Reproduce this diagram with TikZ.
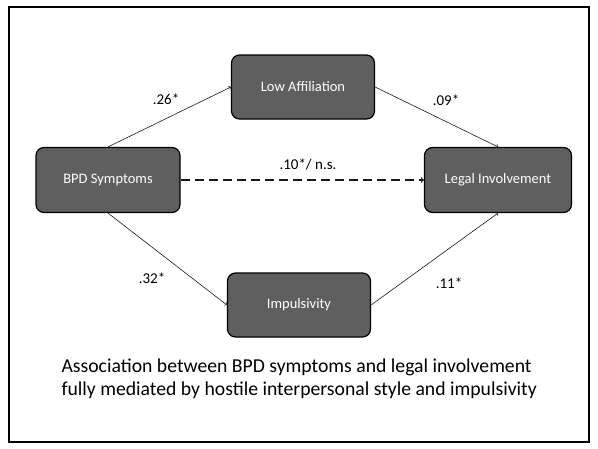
\documentclass[tikz,border=0pt]{standalone}
\usepackage{fontspec}
\setmainfont{Carlito}
\definecolor{med@gray}{RGB}{95,95,95}
\definecolor{med@line}{RGB}{25,25,25}

\tikzset{
  medbox/.style={
    draw=black, line width=1.2pt, fill=med@gray,
    rounded corners=8pt, inner sep=0pt,
    minimum width=143pt, minimum height=64pt,
    text=white, font=\fontsize{14.5}{16}\selectfont,
  },
  medlabel/.style={font=\fontsize{15}{17}\selectfont},
  medarrow/.style={->, line width=0.6pt, med@line},
}

\begin{document}
\begin{tikzpicture}[x=1pt,y=-1pt]
\useasboundingbox (0,0) rectangle (598,448);
\draw[line width=1.8pt] (9,7) rectangle (589,442);

% predictor and outcome
\node[medbox, minimum width=144pt, minimum height=65pt] (bpd) at (108,180) {BPD Symptoms};
\node[medbox, minimum width=147pt, minimum height=65pt] (legal) at (498,180) {Legal Involvement};

% mediators
\node[medbox] (lowaff) at (303,87) {Low Affiliation};
\node[medbox] (impuls) at (299,305) {Impulsivity};

% paths
\draw[medarrow] (bpd.north) -- (lowaff.west);
\draw[medarrow] (lowaff.east) -- (legal.north);
\draw[medarrow] (bpd.south) -- (impuls.west);
\draw[medarrow] (impuls.east) -- (legal.south);
\draw[medarrow, line width=1.1pt, dash pattern=on 9pt off 5pt] (bpd.east) -- (legal.west);

\node[medlabel] (l26) at (166,99) {.26*};
\node[medlabel] (l09) at (446,100) {.09*};
\node[medlabel] (l10) at (308,164) {.10*/ n.s.};
\node[medlabel] (l32) at (152,278) {.32*};
\node[medlabel] (l11) at (449,283) {.11*};

\node[anchor=west, align=left, font=\fontsize{19.7}{23}\selectfont] (caption) at (58,379)
  {Association between BPD symptoms and legal involvement\\
   fully mediated by hostile interpersonal style and impulsivity};

\end{tikzpicture}
\end{document}
